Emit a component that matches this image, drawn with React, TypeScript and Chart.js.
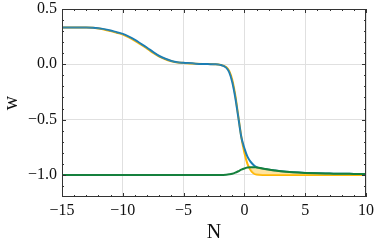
import React, { useEffect, useRef } from "react";
import { Chart, registerables } from "chart.js";
Chart.register(...registerables);

const N = [-15, -14, -13, -12, -11, -10.5, -10, -9.5, -9, -8.5, -8, -7.5, -7, -6.5, -6, -5.5, -5, -4, -3, -2.5, -2, -1.5, -1.25, -1, -0.75, -0.5, -0.25, 0, 0.25, 0.5, 0.75, 1, 1.5, 2, 2.5, 3, 4, 5, 6, 7, 8, 9, 10];

const wBlue = [0.333, 0.333, 0.332, 0.325, 0.305, 0.29, 0.275, 0.25, 0.22, 0.185, 0.15, 0.11, 0.075, 0.05, 0.03, 0.018, 0.014, 0.006, 0.002, 0.0, -0.005, -0.03, -0.07, -0.16, -0.3, -0.48, -0.66, -0.76, -0.835, -0.88, -0.91, -0.93, -0.945, -0.953, -0.96, -0.967, -0.976, -0.982, -0.986, -0.988, -0.99, -0.991, -0.992];

const wOrange = [0.333, 0.333, 0.332, 0.324, 0.3, 0.285, 0.268, 0.243, 0.212, 0.177, 0.142, 0.103, 0.07, 0.046, 0.028, 0.017, 0.012, 0.005, 0.002, 0.0, -0.004, -0.025, -0.06, -0.14, -0.28, -0.47, -0.66, -0.8, -0.9, -0.955, -0.985, -0.997, -1.0, -1.0, -1.0, -1.0, -1.0, -1.0, -1.0, -1.0, -1.0, -1.0, -1.0];

const wGreen = [-1.0, -1.0, -1.0, -1.0, -1.0, -1.0, -1.0, -1.0, -1.0, -1.0, -1.0, -1.0, -1.0, -1.0, -1.0, -1.0, -1.0, -1.0, -1.0, -1.0, -1.0, -0.998, -0.995, -0.99, -0.98, -0.967, -0.953, -0.942, -0.934, -0.93, -0.93, -0.933, -0.942, -0.952, -0.96, -0.967, -0.976, -0.982, -0.986, -0.988, -0.99, -0.991, -0.992];

const xTicks = [-15, -10, -5, 0, 5, 10];
const yTicks = [-1.0, -0.5, 0.0, 0.5];
const xMinor = [-14, -13, -12, -11, -9, -8, -7, -6, -4, -3, -2, -1, 1, 2, 3, 4, 6, 7, 8, 9];
const yMinor = [-1.1, -0.9, -0.8, -0.7, -0.6, -0.4, -0.3, -0.2, -0.1, 0.1, 0.2, 0.3, 0.4];

const toPts = (ys: number[]) => N.map((x, i) => ({ x, y: ys[i] }));
const fmt = (v: number, d: number) => {
  const s = Math.abs(v).toFixed(d);
  return v < 0 ? "\u2212" + s : s;
};

const framePlugin = {
  id: "frame",
  afterDatasetsDraw(chart: any) {
    const { ctx, chartArea: a, scales } = chart;
    const xs = scales.x, ys = scales.y;
    ctx.save();
    ctx.strokeStyle = "#333";
    ctx.lineWidth = 1;
    ctx.strokeRect(a.left + 0.5, a.top + 0.5, a.right - a.left - 1, a.bottom - a.top - 1);
    const tick = (vals: number[], len: number) => {
      ctx.beginPath();
      vals.forEach((v) => {
        const px = Math.round(xs.getPixelForValue(v)) + 0.5;
        ctx.moveTo(px, a.bottom); ctx.lineTo(px, a.bottom - len);
        ctx.moveTo(px, a.top); ctx.lineTo(px, a.top + len);
      });
      ctx.stroke();
    };
    const ytick = (vals: number[], len: number) => {
      ctx.beginPath();
      vals.forEach((v) => {
        const py = Math.round(ys.getPixelForValue(v)) + 0.5;
        ctx.moveTo(a.left, py); ctx.lineTo(a.left + len, py);
        ctx.moveTo(a.right, py); ctx.lineTo(a.right - len, py);
      });
      ctx.stroke();
    };
    tick(xTicks, 4);
    tick(xMinor, 2);
    ytick(yTicks, 4);
    ytick(yMinor, 2);
    ctx.restore();
  },
};

export default function App() {
  const ref = useRef<HTMLCanvasElement>(null);
  useEffect(() => {
    if (!ref.current) return;
    const font = "'Liberation Serif', 'Times New Roman', serif";
    const chart = new Chart(ref.current, {
      type: "line",
      data: {
        datasets: [
          {
            label: "green",
            data: toPts(wGreen),
            borderColor: "#15803d",
            backgroundColor: "rgba(255,205,80,0.5)",
            borderWidth: 2,
            pointRadius: 0,
            cubicInterpolationMode: "monotone",
            fill: { target: 2, above: "rgba(255,205,80,0.55)", below: "rgba(255,255,255,0)" },
            order: 0,
          },
          {
            label: "blue",
            data: toPts(wBlue),
            borderColor: "#1a7db4",
            borderWidth: 2,
            pointRadius: 0,
            cubicInterpolationMode: "monotone",
            fill: false,
            order: 1,
          },
          {
            label: "orange",
            data: toPts(wOrange),
            borderColor: "#ffb703",
            borderWidth: 2,
            pointRadius: 0,
            cubicInterpolationMode: "monotone",
            fill: false,
            order: 2,
          },
        ],
      },
      options: {
        animation: false,
        responsive: false,
        maintainAspectRatio: false,
        layout: { padding: { top: 9, right: 9, left: 0, bottom: 0 } },
        plugins: { legend: { display: false }, tooltip: { enabled: false }, filler: { propagate: false } },
        scales: {
          x: {
            type: "linear",
            min: -15,
            max: 10,
            afterBuildTicks: (s: any) => { s.ticks = xTicks.map((v) => ({ value: v })); },
            afterFit: (s: any) => { s.height = 48; s.paddingLeft = 0; s.paddingRight = 0; },
            grid: { color: "#e0e0e0", lineWidth: 1, drawTicks: false },
            border: { display: false },
            ticks: {
              color: "#111",
              font: { family: font, size: 16 },
              padding: 4,
              maxRotation: 0,
              callback: (v: any) => fmt(Number(v), 0),
            },
            title: { display: true, text: "N", color: "#111", font: { family: font, size: 20 }, padding: { top: 0, bottom: 0 } },
          },
          y: {
            type: "linear",
            min: -1.2,
            max: 0.5,
            afterBuildTicks: (s: any) => { s.ticks = yTicks.map((v) => ({ value: v })); },
            afterFit: (s: any) => { s.width = 62; s.paddingTop = 0; s.paddingBottom = 0; },
            grid: { color: "#e0e0e0", lineWidth: 1, drawTicks: false },
            border: { display: false },
            ticks: {
              color: "#111",
              font: { family: font, size: 16 },
              padding: 5,
              callback: (v: any) => fmt(Number(v), 1),
            },
            title: { display: true, text: "w", color: "#111", font: { family: font, size: 20 }, padding: { top: 0, bottom: 4 } },
          },
        },
      },
      plugins: [framePlugin],
    } as any);
    return () => chart.destroy();
  }, []);
  return (
    <div style={{ position: "fixed", left: 0, top: 0, width: 375, height: 245, background: "#fff" }}>
      <canvas ref={ref} width={375} height={245} style={{ width: 375, height: 245 }} />
    </div>
  );
}
